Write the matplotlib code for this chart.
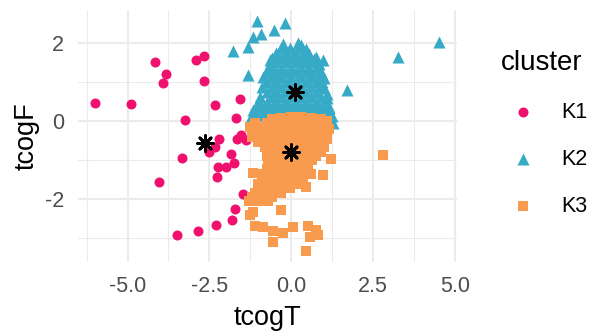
import numpy as np
import matplotlib
matplotlib.use("Agg")
import matplotlib.pyplot as plt
from matplotlib.ticker import FixedLocator

plt.rcParams['font.family'] = ['Liberation Sans', 'DejaVu Sans']

# K1 - circles
k1_x = [-5.99, -4.91, -4.15, -3.83, -3.93, -2.92, -2.67, -2.67, -2.33, -1.55,
        -3.25, -1.70, -1.54, -1.66, -2.21, -2.34, -2.52, -1.83, -3.34, -1.76,
        -1.98, -2.24, -2.28, -4.05, -1.48, -1.71, -1.81, -2.30, -2.86, -3.49,
        -1.39]
k1_y = [0.46, 0.43, 1.51, 1.21, 0.98, 1.56, 1.67, 1.03, 0.42, 0.56,
        0.04, 0.08, -0.35, -0.45, -0.47, -0.66, -0.79, -0.83, -0.95, -1.08,
        -1.17, -1.17, -1.43, -1.56, -1.87, -2.24, -2.54, -2.65, -2.82, -2.91,
        -0.49]

# K2 - triangles (dense blob by rows, then stragglers)
k2_x = [-0.25, 0.2, 0.3,
        -0.3, -0.05, 0.25, 0.45,
        -0.45, -0.15, 0.1, 0.4, 0.55,
        -0.6, -0.3, 0.0, 0.25, 0.55, 0.7,
        -0.45, -0.15, 0.15, 0.4, 0.7, 0.85,
        -0.7, -0.6, -0.3, 0.0, 0.3, 0.55, 0.85,
        -0.75, -0.45, -0.15, 0.15, 0.45, 0.7, 0.95,
        -0.85, -0.6, -0.3, 0.0, 0.3, 0.6, 0.85, 1.0,
        -0.75, -0.45, -0.15, 0.15, 0.45, 0.75, 0.95,
        -0.9, -0.6, -0.3, 0.0, 0.3, 0.6, 0.9, 1.0,
        -0.75, -0.45, -0.15, 0.15, 0.45, 0.75, 1.1,
        -0.95, -0.6, -0.3, 0.0, 0.3, 0.6, 0.9, 1.1,
        -1.0, -0.75, -0.45, -0.15, 0.15, 0.45, 0.75, 1.05,
        -1.05, -0.9, -0.6, -0.3, 0.0, 0.3, 0.6, 0.9, 1.15,
        -1.1, -0.75, -0.45, -0.15, 0.15, 0.45, 0.75, 1.05, 1.2,
        -1.15, -0.9, -0.6, -0.3, 0.0, 0.3, 0.6, 0.9,
        -1.25, -0.75, -0.45, -0.15, 0.15, 0.45, 0.75, 1.0,
        -1.05, -0.2, -0.51, -1.17, -0.91, -1.32, -1.78, -1.32, 1.70, -0.66,
        0.76, 0.96, 4.53, 3.27, 1.27, 1.17, -1.17, 1.25]
k2_y = [1.98, 2.0, 1.95,
        1.87, 1.87, 1.87, 1.85,
        1.75, 1.75, 1.75, 1.75, 1.72,
        1.62, 1.62, 1.62, 1.62, 1.62, 1.6,
        1.5, 1.5, 1.5, 1.5, 1.5, 1.45,
        1.37, 1.37, 1.37, 1.37, 1.37, 1.37, 1.33,
        1.25, 1.25, 1.25, 1.25, 1.25, 1.25, 1.2,
        1.12, 1.12, 1.12, 1.12, 1.12, 1.12, 1.12, 1.1,
        1.0, 1.0, 1.0, 1.0, 1.0, 1.0, 1.0,
        0.87, 0.87, 0.87, 0.87, 0.87, 0.87, 0.87, 0.85,
        0.75, 0.75, 0.75, 0.75, 0.75, 0.75, 0.7,
        0.62, 0.62, 0.62, 0.62, 0.62, 0.62, 0.62, 0.58,
        0.5, 0.5, 0.5, 0.5, 0.5, 0.5, 0.5, 0.45,
        0.37, 0.37, 0.37, 0.37, 0.37, 0.37, 0.37, 0.37, 0.33,
        0.25, 0.25, 0.25, 0.25, 0.25, 0.25, 0.25, 0.25, 0.2,
        0.15, 0.15, 0.15, 0.15, 0.15, 0.15, 0.15, 0.15,
        0.05, 0.05, 0.05, 0.05, 0.05, 0.05, 0.05, 0.05,
        2.55, 2.52, 2.32, 2.16, 2.23, 1.90, 1.78, 1.18, 0.79, 1.56,
        1.65, 1.56, 2.03, 1.65, -0.06, 0.37, 0.28, 0.12]

# K3 - squares
k3_x = [-0.6, -0.3, 0.0, 0.3, 0.6, 0.9, 1.1,
        -1.1, -0.75, -0.45, -0.15, 0.15, 0.45, 0.75, 1.0,
        -1.25, -0.95, -0.6, -0.3, 0.0, 0.3, 0.6, 0.9, 1.15,
        -1.05, -0.75, -0.45, -0.15, 0.15, 0.45, 0.75, 1.0,
        -1.2, -0.9, -0.6, -0.3, 0.0, 0.3, 0.6, 0.9, 1.1,
        -1.0, -0.65, -0.35, -0.05, 0.25, 0.55, 0.85,
        -0.8, -0.5, -0.2, 0.1, 0.4, 0.7, 1.0,
        -0.6, -0.3, 0.0, 0.3, 0.6, 0.9,
        -0.75, -0.45, -0.15, 0.15, 0.45, 0.75,
        -0.55, -0.25, 0.05, 0.35, 0.65,
        -0.7, -0.4, -0.1, 0.2, 0.5,
        -0.75, -0.45, -0.15, 0.15, 0.45,
        -0.9, -0.6, -0.3, 0.0, 0.3, 0.6,
        -0.85, -0.55, -0.25, 0.05, 0.35,
        -1.0, -0.7, -0.4, -0.1, 0.2,
        -0.95, -0.65, -0.35, -0.05,
        -1.1, -0.8, -0.5, -0.3,
        -1.2, -0.9, -0.6,
        -1.3, -1.0, -0.7,
        -1.17, 0.96, 1.22, 0.46, -0.30, -1.18, -1.27, -1.12, -0.87, -0.55,
        -0.25, 0.05, -0.56, 0.50, 0.76, 0.56, 0.81, 0.46, 2.80]
k3_y = [0.05, 0.08, 0.1, 0.1, 0.08, 0.05, 0.0,
        -0.05, -0.05, -0.05, -0.05, -0.05, -0.05, -0.05, -0.05,
        -0.15, -0.15, -0.15, -0.15, -0.15, -0.15, -0.15, -0.15, -0.2,
        -0.28, -0.28, -0.28, -0.28, -0.28, -0.28, -0.28, -0.28,
        -0.4, -0.4, -0.4, -0.4, -0.4, -0.4, -0.4, -0.4, -0.45,
        -0.53, -0.53, -0.53, -0.53, -0.53, -0.53, -0.53,
        -0.65, -0.65, -0.65, -0.65, -0.65, -0.65, -0.65,
        -0.78, -0.78, -0.78, -0.78, -0.78, -0.78,
        -0.9, -0.9, -0.9, -0.9, -0.9, -0.9,
        -1.0, -1.0, -1.0, -1.0, -1.0,
        -1.1, -1.1, -1.1, -1.1, -1.1,
        -1.23, -1.23, -1.23, -1.23, -1.23,
        -1.35, -1.35, -1.35, -1.35, -1.35, -1.35,
        -1.48, -1.48, -1.48, -1.48, -1.48,
        -1.6, -1.6, -1.6, -1.6, -1.6,
        -1.72, -1.72, -1.72, -1.72,
        -1.85, -1.85, -1.85, -1.85,
        -1.95, -1.95, -1.95,
        -2.05, -2.05, -2.05,
        -1.34, -1.38, -0.96, -1.68, -2.28, -2.33, -2.41, -2.67, -2.72, -2.80,
        -2.85, -2.72, -3.09, -2.67, -2.79, -2.97, -2.92, -3.31, -0.87]

# cluster centres
cen_x = [-2.64, 0.13, -0.02]
cen_y = [-0.56, 0.74, -0.80]

clusters = ["K1", "K2", "K3"]
colors = ["#F0116F", "#36AAC6", "#F89B4F"]

fig = plt.figure(figsize=(5.93, 3.31), dpi=100)
ax = fig.add_axes([0.1315, 0.2085, 0.770 - 0.1315, 0.970 - 0.2085])

ax.scatter(k1_x, k1_y, s=52, marker="o", color=colors[0], linewidths=0, label=clusters[0])
ax.scatter(k2_x, k2_y, s=75, marker="^", color=colors[1], linewidths=0, label=clusters[1])
ax.scatter(k3_x, k3_y, s=44, marker="s", color=colors[2], linewidths=0, label=clusters[2])
ax.scatter(cen_x, cen_y, s=130, marker=(8, 2, 0), color="black", linewidths=2)

ax.margins(0.05)
ax.xaxis.set_major_locator(FixedLocator([-5, -2.5, 0, 2.5, 5]))
ax.xaxis.set_minor_locator(FixedLocator([-6.25, -3.75, -1.25, 1.25, 3.75]))
ax.yaxis.set_major_locator(FixedLocator([-2, 0, 2]))
ax.yaxis.set_minor_locator(FixedLocator([-3, -1, 1]))
ax.set_xticklabels(["-5.0", "-2.5", "0.0", "2.5", "5.0"])
ax.set_yticklabels(["-2", "0", "2"])

ax.grid(True, which="major", color="#EBEBEB", linewidth=1.5)
ax.grid(True, which="minor", color="#EBEBEB", linewidth=0.75)
ax.set_axisbelow(True)
for sp in ax.spines.values():
    sp.set_visible(False)
ax.tick_params(which="both", length=0, labelsize=15.5, labelcolor="#4D4D4D", pad=10)

ax.set_xlabel("tcogT", fontsize=19.5, labelpad=6)
ax.set_ylabel("tcogF", fontsize=19.5, labelpad=4)

leg = ax.legend(title="cluster", loc="center left", bbox_to_anchor=(1.089, 0.51),
                frameon=False, fontsize=15.5, title_fontsize=20,
                labelspacing=1.2, handletextpad=0.8, borderpad=0)
leg._legend_box.align = "left"

fig.savefig("out.png", dpi=100)
